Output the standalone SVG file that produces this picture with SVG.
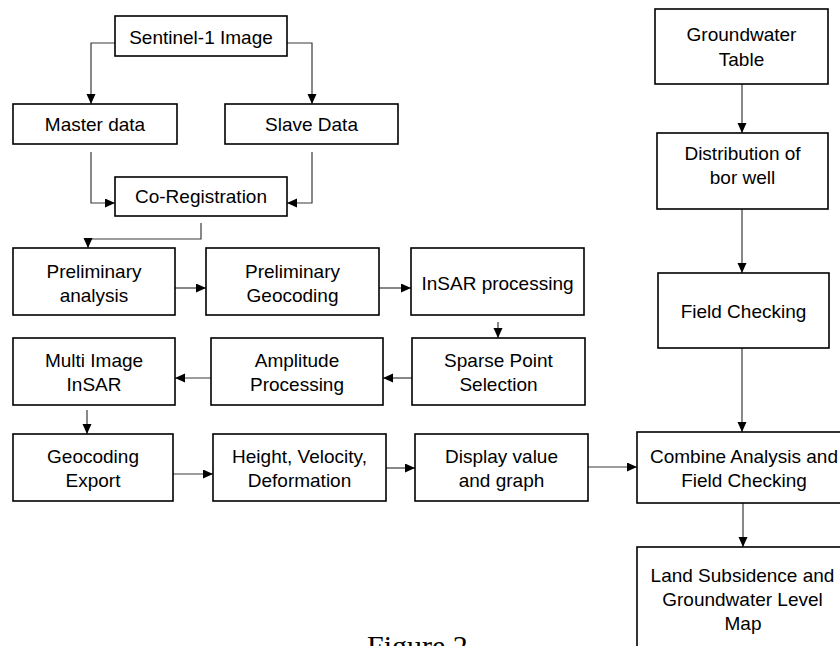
<svg xmlns="http://www.w3.org/2000/svg" width="840" height="646" viewBox="0 0 840 646">
<defs>
<style>
.box{fill:#fff;stroke:#000;stroke-width:1.6}
.t{font-family:"Liberation Sans",Arial,sans-serif;font-size:19px;fill:#000;text-anchor:middle}
.c{fill:none;stroke:#3a3a3a;stroke-width:1.2}
.cap{font-family:"Liberation Serif","Times New Roman",serif;font-size:30px;fill:#000}
</style>
<marker id="ah" markerUnits="userSpaceOnUse" markerWidth="11" markerHeight="10" refX="10" refY="4.5" orient="auto">
<path d="M0,0 L10,4.5 L0,9 z" fill="#000"/>
</marker>
</defs>
<rect width="840" height="646" fill="#fff"/>
<g id="connectors">
<path class="c" d="M115,43 H91 V104" marker-end="url(#ah)"/>
<path class="c" d="M287,43 H312 V104" marker-end="url(#ah)"/>
<path class="c" d="M91,152 V203 H115" marker-end="url(#ah)"/>
<path class="c" d="M312,152 V203 H287" marker-end="url(#ah)"/>
<path class="c" d="M201,223 V239 H88 V248" marker-end="url(#ah)"/>
<path class="c" d="M175,288 H206" marker-end="url(#ah)"/>
<path class="c" d="M379,288 H411" marker-end="url(#ah)"/>
<path class="c" d="M498,322 V338" marker-end="url(#ah)"/>
<path class="c" d="M412,378 H383" marker-end="url(#ah)"/>
<path class="c" d="M211,378 H175" marker-end="url(#ah)"/>
<path class="c" d="M87,410 V434" marker-end="url(#ah)"/>
<path class="c" d="M173,474 H213" marker-end="url(#ah)"/>
<path class="c" d="M386,468 H415" marker-end="url(#ah)"/>
<path class="c" d="M588,467 H637" marker-end="url(#ah)"/>
<path class="c" d="M742,84 V133" marker-end="url(#ah)"/>
<path class="c" d="M742,209 V273" marker-end="url(#ah)"/>
<path class="c" d="M742,348 V432" marker-end="url(#ah)"/>
<path class="c" d="M743,503 V547" marker-end="url(#ah)"/>
</g>
<g id="sentinel"><rect class="box" x="115" y="16" width="172" height="40"/><text class="t" x="201" y="44">Sentinel-1 Image</text></g>
<g id="master"><rect class="box" x="13" y="104" width="164" height="40"/><text class="t" x="95" y="131">Master data</text></g>
<g id="slave"><rect class="box" x="225" y="104" width="173" height="40"/><text class="t" x="311.5" y="131">Slave Data</text></g>
<g id="coreg"><rect class="box" x="115" y="177" width="172" height="39"/><text class="t" x="201" y="203">Co-Registration</text></g>
<g id="prelim-analysis"><rect class="box" x="13" y="248" width="162" height="67"/><text class="t" x="94" y="278">Preliminary</text><text class="t" x="94" y="302">analysis</text></g>
<g id="prelim-geocoding"><rect class="box" x="206" y="248" width="173" height="67"/><text class="t" x="292.5" y="278">Preliminary</text><text class="t" x="292.5" y="302">Geocoding</text></g>
<g id="insar-processing"><rect class="box" x="411" y="248" width="173" height="67"/><text class="t" x="497.5" y="290">InSAR processing</text></g>
<g id="multi-image"><rect class="box" x="13" y="338" width="162" height="67"/><text class="t" x="94" y="367">Multi Image</text><text class="t" x="94" y="391">InSAR</text></g>
<g id="amplitude"><rect class="box" x="211" y="338" width="172" height="67"/><text class="t" x="297" y="367">Amplitude</text><text class="t" x="297" y="391">Processing</text></g>
<g id="sparse"><rect class="box" x="412" y="338" width="173" height="67"/><text class="t" x="498.5" y="367">Sparse Point</text><text class="t" x="498.5" y="391">Selection</text></g>
<g id="geocoding-export"><rect class="box" x="13" y="434" width="160" height="67"/><text class="t" x="93" y="463">Geocoding</text><text class="t" x="93" y="487">Export</text></g>
<g id="height"><rect class="box" x="213" y="434" width="173" height="67"/><text class="t" x="299.5" y="463">Height, Velocity,</text><text class="t" x="299.5" y="487">Deformation</text></g>
<g id="display"><rect class="box" x="415" y="434" width="173" height="67"/><text class="t" x="501.5" y="463">Display value</text><text class="t" x="501.5" y="487">and graph</text></g>
<g id="groundwater"><rect class="box" x="655" y="9" width="173" height="75"/><text class="t" x="741.5" y="41">Groundwater</text><text class="t" x="741.5" y="66">Table</text></g>
<g id="distribution"><rect class="box" x="657" y="133" width="171" height="76"/><text class="t" x="742.5" y="160">Distribution of</text><text class="t" x="742.5" y="184">bor well</text></g>
<g id="field-checking"><rect class="box" x="658" y="273" width="171" height="75"/><text class="t" x="743.5" y="318">Field Checking</text></g>
<g id="combine"><rect class="box" x="637" y="432" width="215" height="71"/><text class="t" x="744" y="463">Combine Analysis and</text><text class="t" x="744" y="487">Field Checking</text></g>
<g id="land"><rect class="box" x="637" y="547" width="215" height="110"/><text class="t" x="742.5" y="582">Land Subsidence and</text><text class="t" x="742.5" y="606">Groundwater Level</text><text class="t" x="743" y="630">Map</text></g>
<text class="cap" x="367" y="656">Figure 2</text>
</svg>
